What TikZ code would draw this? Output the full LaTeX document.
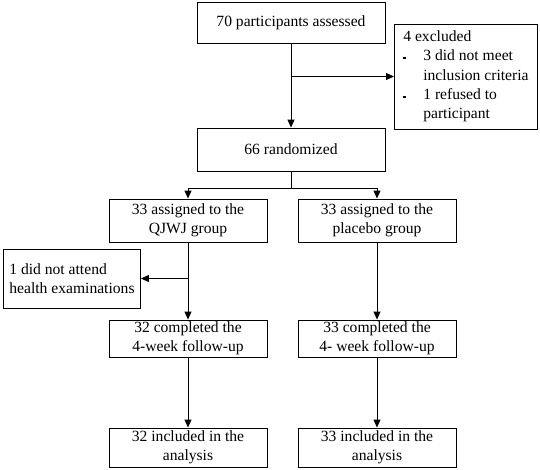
\documentclass[tikz,border=0pt]{standalone}
\usepackage{fontspec}
\setmainfont{Liberation Serif}
\usetikzlibrary{positioning, arrows.meta}

\newcommand{\sqbullet}{\makebox[20pt][l]{\rule[1.5pt]{2.5pt}{2.5pt}}}

\begin{document}
\begin{tikzpicture}[x=1pt, y=-1pt, line width=0.9pt,
  every node/.style={font=\fontsize{15.6}{19.3}\selectfont},
  flow box/.style={draw, rectangle, inner sep=0pt, align=center},
  side box/.style={draw, rectangle, inner xsep=4pt, inner ysep=0pt, align=left, anchor=west},
  flow arrow/.style={-{Triangle[length=8pt,width=7pt]}}]

\useasboundingbox (0,0) rectangle (540,469);

% main column
\node[flow box, minimum width=188pt, minimum height=41pt] (assess) at (291,22.5) {70 participants assessed};
\node[flow box, minimum width=188pt, minimum height=43pt] (rand) at (291,149.5) {66 randomized};
\node[side box, minimum width=143pt, minimum height=105pt] (excl) at (394,76.5)
  {4 excluded\\
   \sqbullet 3 did not meet\\
   \hspace*{20pt}inclusion criteria\\
   \sqbullet 1 refused to\\
   \hspace*{20pt}participant};

% two arms
\node[flow box, minimum width=158pt, minimum height=43pt] (qjwj) at (188,220.5) {33 assigned to the\\QJWJ group};
\node[flow box, minimum width=158pt, minimum height=43pt] (plac) at (377,220.5) {33 assigned to the\\placebo group};
\node[side box, minimum width=137pt, minimum height=59pt] (attend) at (3,278.5) {1 did not attend\\health examinations};
\node[flow box, minimum width=158pt, minimum height=37pt] (done1) at (188,338.5) {32 completed the\\4-week follow-up};
\node[flow box, minimum width=158pt, minimum height=37pt] (done2) at (377,338.5) {33 completed the\\4- week follow-up};
\node[flow box, minimum width=158pt, minimum height=39pt] (incl1) at (188,447.5) {32 included in the\\analysis};
\node[flow box, minimum width=158pt, minimum height=39pt] (incl2) at (377,447.5) {33 included in the\\analysis};

% connectors
\draw[flow arrow] (assess) -- (rand);
\draw[flow arrow] (assess.south |- excl.west) -- (excl.west);

\draw (rand.south) -- ++(0,17) coordinate (split);
\draw (split -| qjwj.north) -- (split -| plac.north);
\draw[flow arrow] (split -| qjwj.north) -- (qjwj.north);
\draw[flow arrow] (split -| plac.north) -- (plac.north);

\draw[flow arrow] (qjwj) -- (done1);
\draw[flow arrow] (qjwj.south |- attend.east) -- (attend.east);
\draw[flow arrow] (plac) -- (done2);
\draw[flow arrow] (done1) -- (incl1);
\draw[flow arrow] (done2) -- (incl2);
\end{tikzpicture}
\end{document}
